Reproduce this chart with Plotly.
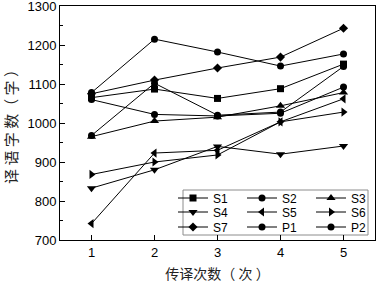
import plotly.graph_objects as go

passes = [1, 2, 3, 4, 5]
series_names = ["S1", "S2", "S3", "S4", "S5", "S6", "S7", "P1", "P2"]
S1 = [1065, 1087, 1063, 1088, 1151]
S2 = [1060, 1022, 1018, 1025, 1092]
S3 = [965, 1005, 1015, 1044, 1078]
S4 = [833, 880, 940, 920, 941]
S5 = [742, 923, 930, 1003, 1062]
S6 = [868, 900, 918, 1003, 1028]
S7 = [1075, 1110, 1141, 1169, 1243]
P1 = [1078, 1215, 1182, 1146, 1177]
P2 = [968, 1102, 1020, 1028, 1145]
series_values = [S1, S2, S3, S4, S5, S6, S7, P1, P2]
symbols = ["square", "circle", "triangle-up", "triangle-down", "triangle-left",
           "triangle-right", "diamond", "circle", "circle"]
y_ticks = [700, 800, 900, 1000, 1100, 1200, 1300]
x_title = "传译次数（ 次 ）"
y_title = "译 语 字 数（ 字 ）"

W, H = 378, 283
ML, MR, MT, MB = 60, 3, 6, 43
PW, PH = W - ML - MR, H - MT - MB

def px_to_paper(px, py):
    return (px - ML) / PW, (H - MB - py) / PH

fig = go.Figure()
col_px = [173, 242, 311]
row_px = [198, 212, 227]
for i, (name, vals, sym) in enumerate(zip(series_names, series_values, symbols)):
    leg = "legend" if i == 0 else f"legend{i+1}"
    is_tri = sym.startswith("triangle")
    fig.add_trace(go.Scatter(
        x=passes, y=vals, name=name, mode="lines+markers",
        line=dict(color="black", width=1),
        marker=dict(symbol=sym, size=8 if is_tri else 7, color="black"),
        legend=leg, showlegend=True,
    ))
    r, c = divmod(i, 3)
    lx, ly = px_to_paper(col_px[c], row_px[r])
    fig.update_layout(**{leg: dict(
        x=lx, y=ly, xanchor="left", yanchor="middle",
        bgcolor="rgba(0,0,0,0)", borderwidth=0,
        font=dict(family="Liberation Sans, Arial", size=12, color="black"),
        itemwidth=30,
    )})

bx0, by1 = px_to_paper(183, 190)
bx1, by0 = px_to_paper(368, 235)
fig.add_shape(type="rect", xref="paper", yref="paper", x0=bx0, x1=bx1, y0=by0, y1=by1,
              line=dict(color="#8c8c8c", width=1), fillcolor="white", layer="below")

fig.update_layout(
    width=W, height=H,
    margin=dict(l=ML, r=MR, t=MT, b=MB, autoexpand=False),
    paper_bgcolor="white", plot_bgcolor="white",
    font=dict(family="Liberation Sans, Arial", size=13, color="black"),
    xaxis=dict(
        range=[0.5, 5.5], tickvals=passes, ticks="inside", ticklen=5, tickwidth=1,
        tickcolor="black", showline=True, linecolor="black", linewidth=1, mirror=True,
        showgrid=False, zeroline=False, automargin=False,
        title=dict(text=x_title, font=dict(family="Noto Sans CJK SC", size=14, color="#222"), standoff=10),
    ),
    yaxis=dict(
        range=[700, 1300], tickvals=y_ticks, ticks="inside", ticklen=5, tickwidth=1,
        tickcolor="black", showline=True, linecolor="black", linewidth=1, mirror=True,
        showgrid=False, zeroline=False, automargin=False, ticklabeloverflow="allow",
        minor=dict(dtick=50, ticks="inside", ticklen=3, tickcolor="black", showgrid=False),
        title=dict(text=y_title, font=dict(family="Noto Sans CJK SC", size=15, color="#222"), standoff=10),
    ),
)

fig.write_html(
    "out.html",
    config={"displayModeBar": False},
    post_script="document.body.style.margin='0';document.body.style.overflow='hidden';",
)
